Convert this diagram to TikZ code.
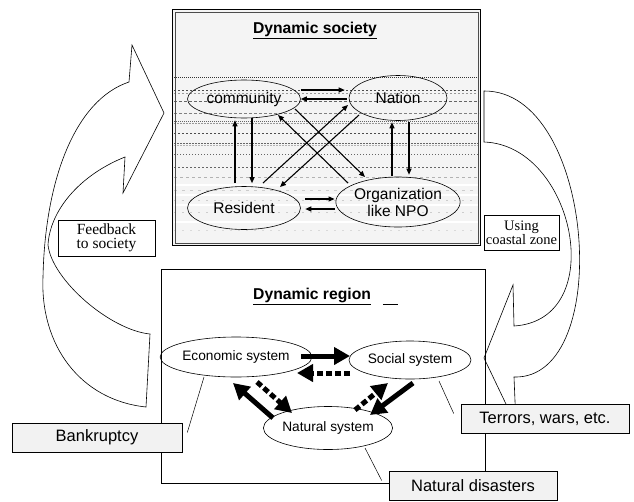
\documentclass[tikz,border=0pt]{standalone}
\usepackage{fontspec}
\setmainfont{Liberation Sans}
\newfontfamily\seriffont{Liberation Serif}
\usetikzlibrary{shapes.geometric,arrows.meta}
\begin{document}
\begin{tikzpicture}[x=1pt,y=-1pt,
  ell/.style={draw, ellipse, inner sep=0pt, line width=0.6pt},
  tarr/.style={-{Triangle[length=6pt,width=5pt]}, line width=1.1pt},
  bigarr/.style={-{Triangle[length=16pt,width=17pt]}, line width=5pt},
  dasharr/.style={bigarr, dash pattern=on 6pt off 3pt},
  callbox/.style={draw, fill=gray!10, line width=0.6pt, inner sep=0pt, minimum height=29pt, font=\fontsize{16.5}{18}\selectfont},
  txtbox/.style={draw, line width=0.6pt, inner sep=0pt, align=center},
  thinline/.style={line width=0.5pt},
  bigcurve/.style={line width=0.6pt},
  topfont/.style={font=\fontsize{15.5}{17}\selectfont},
  botfont/.style={font=\fontsize{13.7}{16}\selectfont},
  titlefont/.style={font=\bfseries\fontsize{15.7}{18}\selectfont}
]
\useasboundingbox (0,0) rectangle (634,501);

% ---------- top box: Dynamic society ----------
\fill[gray!9] (173,10) rectangle (480,245);
\begin{scope}[line width=0.5pt]
\draw[white, line width=1.2pt] (174,185) -- (479,185);
\draw[white, line width=1.2pt] (174,195) -- (479,195);
\draw[white, line width=1.2pt] (174,205) -- (479,205);
\draw[white, line width=1.2pt] (174,222) -- (479,222);
\draw[black!80, dash pattern=on 1pt off 1pt] (174,77) -- (479,77);
\draw[black!70, dash pattern=on 2pt off 2pt] (174,90) -- (479,90);
\draw[black!40, dash pattern=on 2pt off 2pt] (174,93) -- (479,93);
\draw[black!60, dash pattern=on 3pt off 2pt] (174,101) -- (479,101);
\draw[black!50, dash pattern=on 3pt off 2pt] (174,113) -- (479,113);
\draw[black!60, dash pattern=on 1pt off 1pt] (174,121) -- (479,121);
\draw[black!40, dash pattern=on 2pt off 1pt] (174,123) -- (479,123);
\draw[black!70, dash pattern=on 2pt off 2pt] (174,133) -- (479,133);
\draw[black!60, dash pattern=on 2pt off 1pt] (174,143) -- (479,143);
\draw[black!30, dash pattern=on 2pt off 1pt] (174,145) -- (479,145);
\draw[black!60, dash pattern=on 1pt off 2pt] (174,154) -- (479,154);
\draw[black!60, dash pattern=on 2pt off 2pt] (174,167) -- (479,167);
\draw[black!30, dash pattern=on 3pt off 3pt] (174,177) -- (479,177);
\draw[black!20, dash pattern=on 3pt off 5pt] (174,190) -- (479,190);
\draw[black!20, dash pattern=on 2pt off 6pt] (174,200) -- (479,200);
\draw[black!20, dash pattern=on 2pt off 6pt] (174,212) -- (479,212);
\draw[black!15, dash pattern=on 2pt off 6pt] (174,230) -- (479,230);
\end{scope}
\draw[black, line width=0.6pt] (172.5,9.5) rectangle (480.5,245.5);
\draw[black!70, line width=0.9pt] (175,12) rectangle (478.5,243.5);

\node[titlefont] (tsoc) at (315,30) {\underline{Dynamic society}};

\node[ell, topfont, minimum width=113pt, minimum height=38pt] (comm) at (244,99) {community};
\node[ell, topfont, minimum width=98pt, minimum height=45pt] (nation) at (398,98) {Nation};
\node[ell, topfont, minimum width=113pt, minimum height=43pt] (res) at (244,208) {Resident};
\node[ell, topfont, align=center, minimum width=118pt, minimum height=50pt] (org) at (398,202) {Organization\\like NPO};

\draw[tarr] ([shift={(0,-9)}]comm.east) -- ([shift={(-4,-8)}]nation.west);
\draw[tarr] ([shift={(-2,1)}]nation.west) -- ([shift={(0,0)}]comm.east);
\draw[tarr] ([shift={(-9,-3)}]res.north) -- ([shift={(-9,2)}]comm.south);
\draw[tarr] ([shift={(8,0)}]comm.south) -- ([shift={(8,-3)}]res.north);
\draw[tarr] ([shift={(-6,-1)}]org.north) -- ([shift={(-6,1.5)}]nation.south);
\draw[tarr] ([shift={(11,1.5)}]nation.south) -- ([shift={(11,-2)}]org.north);
\draw[tarr] ([shift={(4.5,-9)}]res.east) -- ([shift={(-1,-3)}]org.west);
\draw[tarr] ([shift={(-1,7)}]org.west) -- ([shift={(4.5,1)}]res.east);
\draw[tarr] ([shift={(51,10)}]comm.center) -- ([shift={(-33,-25)}]org.center);
\draw[tarr] ([shift={(-50,-19)}]org.center) -- ([shift={(34,16)}]comm.center);
\draw[tarr] ([shift={(19,-25)}]res.center) -- ([shift={(-50,7)}]nation.center);
\draw[tarr] ([shift={(-39,17)}]nation.center) -- ([shift={(36,-21)}]res.center);

% ---------- big curved arrows ----------
\draw[bigcurve] (146,407) -- (150,334)
  .. controls (110,330) and (52,280) .. (48,245)
  .. controls (50,210) and (80,175) .. (125,157)
  -- (123,193) -- (164,113) -- (132,45) -- (129,82)
  .. controls (75,100) and (45,180) .. (43,277)
  .. controls (40,345) and (80,400) .. (146,407) -- cycle;
\draw[bigcurve] (484,91) -- (484,142) .. controls (575,145) and (610,320) .. (514,326)
  -- (513,285) -- (484,358) -- (516,425) -- (514,377)
  .. controls (615,380) and (595,90) .. (484,91) -- cycle;

\node[txtbox, minimum width=97pt, minimum height=36pt, font=\seriffont\fontsize{15.5}{14.5}\selectfont] (fb) at (106.5,238) {Feedback\\to society};
\node[txtbox, fill=white, minimum width=75pt, minimum height=35pt, font=\seriffont\fontsize{14.5}{14}\selectfont] (use) at (521.5,232.5) {Using\\coastal zone};

% ---------- bottom box: Dynamic region ----------
\draw[line width=0.6pt] (161,269) rectangle (485,483);
\node[titlefont, anchor=west, inner sep=0pt] (treg) at (253,296) {\underline{Dynamic region}\hspace{12pt}\underline{\hspace{15pt}\vphantom{g}}};

\node[ell, botfont, minimum width=118pt, minimum height=40pt] (econ) at (236,357) {Economic system};
\node[ell, botfont, minimum width=122pt, minimum height=38pt] (soc) at (410,360) {Social system};
\node[ell, botfont, minimum width=123pt, minimum height=43pt] (nat) at (328,428) {Natural system};

\draw[bigarr] ([shift={(65,-1)}]econ.center) -- ([shift={(-60,-4)}]soc.center);
\draw[dasharr] ([shift={(-60,13)}]soc.center) -- ([shift={(61,16)}]econ.center);
\draw[bigarr] ([shift={(-55,-10)}]nat.center) -- ([shift={(-3,26)}]econ.center);
\draw[dasharr] ([shift={(21,25)}]econ.center) -- ([shift={(-36,-15)}]nat.center);
\draw[bigarr] ([shift={(3,23)}]soc.center) -- ([shift={(42,-13)}]nat.center);
\draw[dasharr] ([shift={(27,-18)}]nat.center) -- ([shift={(-22,23)}]soc.center);

% ---------- callouts ----------
\node[callbox, minimum width=170pt] (bank) at (97,437.5) {Bankruptcy};
\node[callbox, minimum width=168pt] (terr) at (545,418.5) {Terrors, wars, etc.};
\node[callbox, minimum width=168pt] (nd) at (473,485.5) {Natural disasters};

\draw[thinline] ([shift={(-32,20)}]econ.center) -- ([shift={(5,-5)}]bank.east);
\draw[thinline] ([shift={(29,21)}]soc.center) -- ([shift={(-7,-5)}]terr.west);
\draw[thinline] ([shift={(37,20)}]nat.center) -- ([shift={(-7,-5)}]nd.west);
\end{tikzpicture}
\end{document}
